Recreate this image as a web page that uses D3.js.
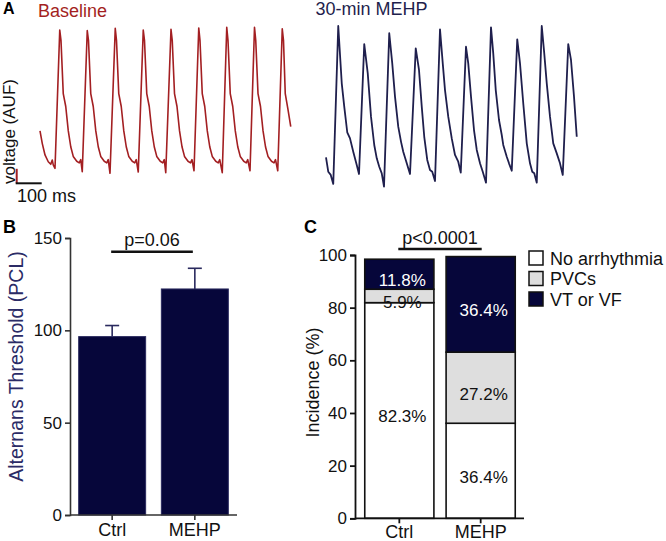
<!DOCTYPE html>
<html><head><meta charset="utf-8">
<script src="https://cdn.jsdelivr.net/npm/d3@7"></script>
<style>body{margin:0;background:#fff} svg{display:block} text{font-family:"Liberation Sans",Arial,sans-serif}</style>
</head><body><svg id="c" width="666" height="541"></svg>
<script>
// ---------- Panel A data: optical voltage traces (time ms, voltage AUF) ----------
const baselineTrace = [
[0,34.8],[9,27.1],[20,19.9],[33,15.7],[43,14.1],[49,16.8],[53,13.7],[60,11.6],
[79,97.5],[84,91],[93,58],[103,50],[113,35],[123,25],[133,19],[147,16],[157,15],[163,17],[169,9.5],
[189,97.1],[194,91],[203,58],[213,50],[223,35],[233,25],[243,19],[257,16],[267,15],[273,17],[280,8.5],
[301,98.6],[306,91],[315,58],[325,50],[335,35],[345,25],[355,19],[369,16],[379,15],[385,17],[393,9.3],
[413,97.5],[418,91],[427,58],[437,50],[447,35],[457,25],[467,19],[481,16],[491,15],[497,17],[503,8.9],
[524,98.0],[529,91],[538,58],[548,50],[558,35],[568,25],[578,19],[592,16],[602,15],[608,17],[616,10.1],
[635,98.8],[640,91],[649,58],[659,50],[669,35],[679,25],[689,19],[703,16],[713,15],[719,17],[729,8.9],
[747,99.2],[752,91],[761,58],[771,50],[781,35],[791,25],[801,19],[815,16],[825,15],[831,17],[840,10.1],
[858,99.2],[863,91],[872,58],[882,50],[892,35],[902,25],[912,19],[926,16],[936,15],[942,17],[951,10.1],
[969,98.3],[974,91],[981,58],[992,48],[1003,37.5]
];
const mehpTrace = [
[0,18.4],[9,9.5],[19,7.5],[29,1.9],
[49,100],[63,64.4],[73,49.9],[85,34.0],[96,30.2],[109,21.9],[123,13.7],[132,8.1],
[153,88.8],[167,70.6],[180,43.7],[193,26.1],[203,17.8],[213,12.6],[223,8.5],[232,0.2],
[253,95.5],[265,76.8],[276,56.1],[289,37.5],[300,28.2],[309,21.9],[323,14.7],[336,8.1],
[359,86.1],[372,72.7],[383,49.9],[393,31.2],[405,16.8],[416,10.6],[425,9.5],[436,3.7],
[456,97.9],[467,76.8],[476,60.2],[489,43.7],[503,30.2],[516,19.9],[529,15.7],[539,8.9],
[560,87.1],[569,76.8],[580,56.1],[592,35.4],[603,23.0],[616,14.7],[627,9.5],[640,2.7],
[660,99.2],[669,83.0],[679,60.2],[692,41.6],[703,32.3],[709,26.1],[723,18.8],[732,14.7],[743,10.1],
[765,91.7],[776,76.8],[789,52.0],[803,27.1],[816,14.7],[825,9.5],[833,8.5],[843,2.7],
[863,100],[873,83.0],[883,64.4],[896,43.7],[909,27.1],[923,20.9],[936,14.7],[947,7.5],
[969,88.8],[980,78.9],[992,56.1],[1003,31.2]
];
const scaleBarTime = [100];      // ms
const scaleBarVoltage = [9];     // AUF

// ---------- Panel B data ----------
const thresholdGroups = ["Ctrl", "MEHP"];
const thresholdMean = [96.6, 122.4];
const thresholdSEM = [6.0, 11.2];
const thresholdTicks = [0, 50, 100, 150];
const thresholdP = "p=0.06";

// ---------- Panel C data ----------
const incidenceGroups = ["Ctrl", "MEHP"];
const incidenceCategories = ["No arrhythmia", "PVCs", "VT or VF"];
const incidenceNone = [81.9, 36.1];
const incidencePVC = [5.1, 27.0];
const incidenceVT = [11.4, 36.3];
const incidenceLabels = [["82.3%", "5.9%", "11.8%"], ["36.4%", "27.2%", "36.4%"]];
const incidenceTicks = [0, 20, 40, 60, 80, 100];
const incidenceP = "p<0.0001";

// ---------- styles ----------
const RED = "#a31f22", NAVY_LINE = "#1f1f4d", NAVY = "#06063a", GRAY = "#dedede";
const svg = d3.select("#c");

// ================= Panel A =================
const vScale = d3.scaleLinear().domain([0, 100]).range([187, 26]);
const xBase = d3.scaleLinear().domain([0, 1003]).range([40, 290.75]);
const xMehp = d3.scaleLinear().domain([0, 1003]).range([326, 576.75]);

const lineB = d3.line().x(d => xBase(d[0])).y(d => vScale(d[1]));
const lineM = d3.line().x(d => xMehp(d[0])).y(d => vScale(d[1]));
svg.append("path").datum(baselineTrace).attr("d", lineB)
  .attr("fill", "none").attr("stroke", RED).attr("stroke-width", 1.6).attr("stroke-linejoin", "round");
svg.append("path").datum(mehpTrace).attr("d", lineM)
  .attr("fill", "none").attr("stroke", NAVY_LINE).attr("stroke-width", 1.8).attr("stroke-linejoin", "round");

svg.append("text").attr("x", 3).attr("y", 14).attr("font-size", 16).attr("font-weight", "bold").text("A");
svg.append("text").attr("x", 38).attr("y", 17).attr("font-size", 18).attr("fill", RED).text("Baseline");
svg.append("text").attr("x", 315.5).attr("y", 15).attr("font-size", 18).attr("fill", NAVY_LINE).text("30-min MEHP");

// scale bar
const sbX = 16.7, sbY = 183.3;
const sbW = xBase(scaleBarTime[0]) - xBase(0);
const sbH = vScale(0) - vScale(scaleBarVoltage[0]);
svg.append("line").attr("x1", sbX).attr("x2", sbX).attr("y1", sbY).attr("y2", sbY - sbH)
  .attr("stroke", RED).attr("stroke-width", 2);
svg.append("line").attr("x1", sbX - 1).attr("x2", sbX + sbW).attr("y1", sbY).attr("y2", sbY)
  .attr("stroke", "#111").attr("stroke-width", 2);
svg.append("text").attr("x", 17).attr("y", 202).attr("font-size", 18).attr("fill", "#111").text("100 ms");
svg.append("text").attr("transform", "translate(15,131.5) rotate(-90)").attr("text-anchor", "middle")
  .attr("font-size", 17).attr("fill", "#111").text("voltage (AUF)");

// ================= Panel B =================
const yB = d3.scaleLinear().domain([0, 150]).range([515, 238]);
const xB = d3.scaleBand().domain(thresholdGroups).range([70, 237]).paddingInner(0.19).paddingOuter(0.105);
const gB = svg.append("g");
gB.selectAll("rect.bar").data(thresholdGroups).enter().append("rect")
  .attr("x", d => xB(d)).attr("width", xB.bandwidth())
  .attr("y", (d, i) => yB(thresholdMean[i])).attr("height", (d, i) => yB(0) - yB(thresholdMean[i]))
  .attr("fill", NAVY).attr("stroke", "#2a2a5e").attr("stroke-width", 1);
// error bars
thresholdGroups.forEach((g, i) => {
  const cx = xB(g) + xB.bandwidth() / 2;
  gB.append("line").attr("x1", cx).attr("x2", cx)
    .attr("y1", yB(thresholdMean[i])).attr("y2", yB(thresholdMean[i] + thresholdSEM[i]))
    .attr("stroke", "#2a2a5e").attr("stroke-width", 1.6);
  gB.append("line").attr("x1", cx - 7).attr("x2", cx + 7)
    .attr("y1", yB(thresholdMean[i] + thresholdSEM[i])).attr("y2", yB(thresholdMean[i] + thresholdSEM[i]))
    .attr("stroke", "#2a2a5e").attr("stroke-width", 1.6);
});
const axYB = gB.append("g").attr("transform", "translate(70,0)")
  .call(d3.axisLeft(yB).tickValues(thresholdTicks).tickSize(5).tickPadding(3));
const axXB = gB.append("g").attr("transform", "translate(0,515)")
  .call(d3.axisBottom(xB).tickSize(5).tickPadding(4));
axXB.select(".domain").attr("d", "M70,0H237");
[axYB, axXB].forEach(a => {
  a.selectAll("path,line").attr("stroke", "#333").attr("stroke-width", 1.6);
  a.selectAll("text").attr("fill", "#111").attr("font-family", "Liberation Sans, Arial, sans-serif");
});
axYB.selectAll("text").attr("font-size", 17);
axXB.selectAll("text").attr("font-size", 18).attr("dy", "0.71em").attr("y", 8);
svg.append("text").attr("transform", "translate(23,366.5) rotate(-90)").attr("text-anchor", "middle")
  .attr("font-size", 19.5).attr("fill", "#2b2b66").text("Alternans Threshold (PCL)");
svg.append("text").attr("x", 3).attr("y", 233).attr("font-size", 18).attr("font-weight", "bold").text("B");
// p-value bracket
const pxB1 = xB("Ctrl") + xB.bandwidth() / 2 - 1, pxB2 = xB("MEHP") + xB.bandwidth() / 2 - 2;
svg.append("line").attr("x1", pxB1).attr("x2", pxB2).attr("y1", 251.7).attr("y2", 251.7)
  .attr("stroke", "#111").attr("stroke-width", 2.5);
svg.append("text").attr("x", (pxB1 + pxB2) / 2).attr("y", 245.5).attr("text-anchor", "middle")
  .attr("font-size", 18).attr("fill", "#111").text(thresholdP);

// ================= Panel C =================
const yC = d3.scaleLinear().domain([0, 100]).range([518.3, 255]);
const xC = d3.scaleBand().domain(incidenceGroups).range([355, 525]).paddingInner(0.15).paddingOuter(0.12);
const gC = svg.append("g");
const fills = ["#ffffff", GRAY, NAVY];
const textFill = ["#111", "#111", "#fff"];
incidenceGroups.forEach((g, i) => {
  const vals = [incidenceNone[i], incidencePVC[i], incidenceVT[i]];
  let base = 0;
  vals.forEach((v, k) => {
    gC.append("rect").attr("x", xC(g)).attr("width", xC.bandwidth())
      .attr("y", yC(base + v)).attr("height", yC(base) - yC(base + v))
      .attr("fill", fills[k]).attr("stroke", "#111").attr("stroke-width", 1.6);
    gC.append("text").attr("x", xC(g) + xC.bandwidth() / 2 + 3).attr("y", yC(base + v / 2) + 12)
      .attr("text-anchor", "middle").attr("font-size", 17).attr("fill", textFill[k])
      .text(incidenceLabels[i][k]);
    base += v;
  });
});
const axYC = gC.append("g").attr("transform", "translate(355,0)")
  .call(d3.axisLeft(yC).tickValues(incidenceTicks).tickSize(5).tickPadding(3));
const axXC = gC.append("g").attr("transform", "translate(0,518.3)")
  .call(d3.axisBottom(xC).tickSize(5).tickPadding(4));
axXC.select(".domain").attr("d", "M355,0H524");
[axYC, axXC].forEach(a => {
  a.selectAll("path,line").attr("stroke", "#111").attr("stroke-width", 1.8);
  a.selectAll("text").attr("fill", "#111").attr("font-family", "Liberation Sans, Arial, sans-serif");
});
axYC.selectAll("text").attr("font-size", 17);
axXC.selectAll("text").attr("font-size", 18).attr("dy", "0.71em").attr("y", 7);
svg.append("text").attr("transform", "translate(319,382.5) rotate(-90)").attr("text-anchor", "middle")
  .attr("font-size", 18).attr("fill", "#111").text("Incidence (%)");
svg.append("text").attr("x", 304).attr("y", 233).attr("font-size", 18).attr("font-weight", "bold").text("C");
const pxC1 = 398.3, pxC2 = 481.7;
svg.append("line").attr("x1", pxC1).attr("x2", pxC2).attr("y1", 249).attr("y2", 249)
  .attr("stroke", "#111").attr("stroke-width", 2.5);
svg.append("text").attr("x", (pxC1 + pxC2) / 2).attr("y", 243.5).attr("text-anchor", "middle")
  .attr("font-size", 18).attr("fill", "#111").text(incidenceP);

// legend
const lg = svg.append("g").attr("transform", "translate(529,251)");
incidenceCategories.forEach((c, k) => {
  const yy = k * 20.5;
  lg.append("rect").attr("x", 0).attr("y", yy).attr("width", 14).attr("height", 14)
    .attr("fill", fills[k]).attr("stroke", "#111").attr("stroke-width", 1.5);
  lg.append("text").attr("x", 21).attr("y", yy + 13.5).attr("font-size", 18).attr("fill", "#111").text(c);
});
</script></body></html>
